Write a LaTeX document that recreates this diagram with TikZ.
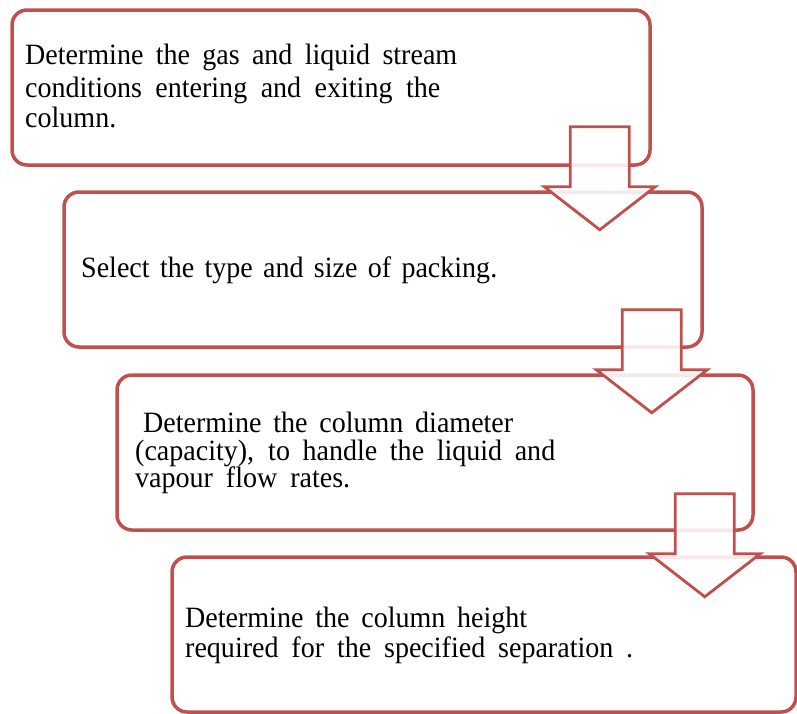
\documentclass[tikz,border=0pt]{standalone}
\usepackage{fontspec}
\setmainfont{Liberation Serif}
\newfontfamily\reffont[FakeStretch=0.95]{Liberation Serif}
\usetikzlibrary{calc}
\definecolor{boxred}{HTML}{C0504D}
\begin{document}
\begin{tikzpicture}[x=1pt,y=-1pt,
  stagebox/.style={draw=boxred, line width=3.5pt, rounded corners=15pt, fill=white, inner sep=0pt},
  linetext/.style={anchor=base west, inner sep=0pt, text=black, font=\reffont\fontsize{29.5}{30}\selectfont},
  flowarrow/.style={draw=boxred, line width=2.8pt, fill=white, fill opacity=0.88, line join=miter}]
\tikzset{downarrow/.pic={\path[flowarrow] (-29.5,0) -- (29.5,0) -- (29.5,60) -- (55.5,60) -- (0,103) -- (-55.5,60) -- (-29.5,60) -- cycle;}}
\useasboundingbox (0,0) rectangle (797,713);
% boxes
\node[stagebox, minimum width=638pt, minimum height=155pt] (b1) at (331,87.5) {};
\node[stagebox, minimum width=638pt, minimum height=155pt] (b2) at (383,269.5) {};
\node[stagebox, minimum width=636pt, minimum height=155pt] (b3) at (435,452.5) {};
\node[stagebox, minimum width=624pt, minimum height=155pt] (b4) at (484,634.5) {};
% texts
\node[linetext] (t1a) at (25,64) {\makebox[432pt][s]{Determine the gas and liquid stream}};
\node[linetext] (t1b) at (25,97) {\makebox[415pt][s]{conditions entering and exiting the}};
\node[linetext] (t1c) at (25,127) {column.};
\node[linetext] (t2) at (81,277) {\makebox[416pt][s]{Select the type and size of packing.}};
\node[linetext] (t3a) at (143,432) {\makebox[370pt][s]{Determine the column diameter}};
\node[linetext] (t3b) at (135,460) {\makebox[420pt][s]{(capacity), to handle the liquid and}};
\node[linetext] (t3c) at (135,487) {\makebox[215pt][s]{vapour flow rates.}};
\node[linetext] (t4a) at (185,627) {\makebox[342pt][s]{Determine the column height}};
\node[linetext] (t4b) at (185,657) {\makebox[448pt][s]{required for the specified separation .}};
% arrows
\pic (a1) at ($(b1.south east)+(-52,-40)$) {downarrow};
\pic (a2) at ($(b2.south east)+(-52,-39)$) {downarrow};
\pic (a3) at ($(b3.south east)+(-50,-38)$) {downarrow};
\end{tikzpicture}
\end{document}
